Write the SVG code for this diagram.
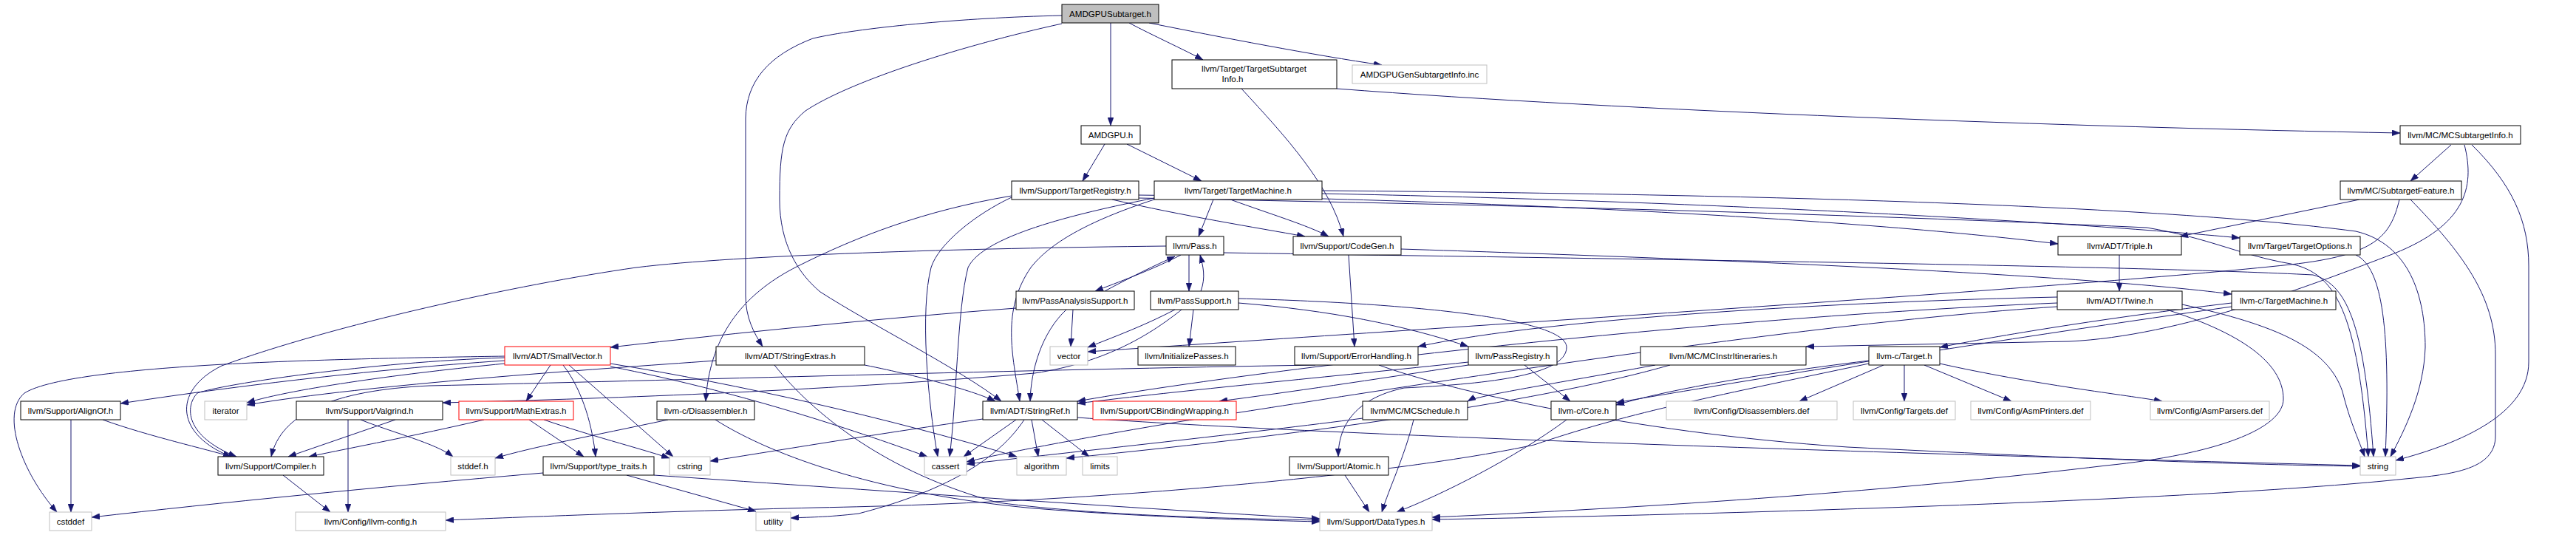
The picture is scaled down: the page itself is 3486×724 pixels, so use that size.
<svg xmlns="http://www.w3.org/2000/svg" width="3486" height="724" viewBox="0 0 3486 724">
<style>
rect{fill:#fff;stroke:#000;stroke-width:1}
.g rect{stroke:#bfbfbf}
.r rect{stroke:#ff0000}
.root rect{fill:#bfbfbf}
text{font-family:"Liberation Sans",Arial,sans-serif;font-size:11.6px;text-anchor:middle;fill:#000}
#edges path{fill:none;stroke:#191970;stroke-width:1;marker-end:url(#a)}
</style>
<defs>
<marker id="a" viewBox="0 0 11 8" refX="11" refY="4" markerWidth="11" markerHeight="8" markerUnits="userSpaceOnUse" orient="auto"><path d="M0,0L11,4L0,8z" fill="#191970" stroke="#191970" stroke-width="0.5"/></marker>
</defs>
<rect x="0" y="0" width="3486" height="724" style="fill:#fff;stroke:none"/>
<g id="edges">
<path d="M1503,31 L1503,170"/>
<path d="M1528,31 C1560,48 1600,66 1628,81"/>
<path d="M1555,31 C1650,50 1780,75 1870,88"/>
<path d="M1437,21 C1300,24 1160,38 1100,52 C1040,75 1010,110 1009,160 L1009,400 C1009,430 1020,450 1032,469"/>
<path d="M1437,32 C1300,62 1150,110 1090,150 C1060,175 1055,200 1055,270 C1055,330 1080,370 1110,395 C1180,440 1300,500 1355,543"/>
<path d="M1495,195 L1465,245"/>
<path d="M1525,195 L1626,245"/>
<path d="M1809,120 C2200,150 2800,172 3248,180"/>
<path d="M1680,120 C1740,185 1800,250 1818,320"/>
<path d="M3317,196 L3262,245"/>
<path d="M3335,196 C3350,255 3335,305 3240,343 C3130,385 2950,455 2800,462 L2444,469"/>
<path d="M3345,196 C3400,250 3422,300 3422,360 L3422,490 C3422,560 3330,600 3242,623"/>
<path d="M3193,270 L2950,320"/>
<path d="M3247,270 C3235,320 3215,345 3100,358 C2800,390 2000,440 1472,476"/>
<path d="M3262,270 C3330,340 3377,400 3377,480 L3377,590 C3377,635 3320,642 3255,648 C3000,675 2400,695 1938,703"/>
<path d="M1369,265 C1250,285 1160,320 1080,360 C1000,400 960,460 955,543"/>
<path d="M1541,264 C2000,270 2500,295 2785,330"/>
<path d="M1505,270 C1600,292 1700,308 1766,320"/>
<path d="M1369,267 C1320,290 1270,330 1260,362 C1245,420 1255,540 1269,618"/>
<path d="M1541,268 C1900,275 2400,285 2905,308 C2990,322 3030,345 3100,357 C3160,370 3190,420 3205,618"/>
<path d="M1642,270 L1622,320"/>
<path d="M1665,270 C1720,290 1770,305 1798,320"/>
<path d="M1789,262 C2300,272 2800,300 3031,322"/>
<path d="M1562,270 C1470,300 1420,330 1395,362 C1355,420 1370,480 1380,543"/>
<path d="M1562,268 C1450,290 1330,320 1310,362 C1295,420 1295,540 1285,618"/>
<path d="M1789,258 C2300,262 2900,275 3188,313 C3260,330 3282,400 3282,470 C3280,530 3255,580 3235,618"/>
<path d="M1578,333 C1300,336 1000,345 861,362 C700,385 450,440 300,495 C230,530 240,590 313,618"/>
<path d="M1656,342 C2300,352 2900,360 3130,372 C3180,385 3200,450 3212,618"/>
<path d="M1598,345 C1560,365 1510,383 1482,394"/>
<path d="M1495,394 C1530,375 1565,358 1590,347"/>
<path d="M1609,345 L1609,394"/>
<path d="M1625,394 C1632,375 1628,360 1624,345"/>
<path d="M1452,419 L1449,469"/>
<path d="M1443,419 C1410,450 1395,500 1394,543"/>
<path d="M1375,417 C1200,430 1000,450 826,470"/>
<path d="M1590,419 C1550,440 1510,455 1472,470"/>
<path d="M1615,419 L1609,469"/>
<path d="M1599,419 C1560,450 1500,490 1400,505 C1100,530 800,540 599,545"/>
<path d="M1676,410 C1800,420 1900,440 1987,469"/>
<path d="M1676,404 C1900,410 2120,430 2120,470 C2120,510 2000,520 1900,525 C1830,540 1811,580 1811,618"/>
<path d="M745,494 L712,543"/>
<path d="M762,494 C790,530 802,580 806,618"/>
<path d="M770,494 L911,618"/>
<path d="M683,488 C500,500 300,525 163,546"/>
<path d="M683,484 C500,490 300,520 267,532 C250,550 250,590 320,618"/>
<path d="M683,492 C550,505 400,525 334,545"/>
<path d="M683,482 C500,485 100,490 33,532 C0,560 30,640 77,693"/>
<path d="M826,492 C1000,520 1200,565 1376,618"/>
<path d="M826,496 C1000,530 1150,580 1255,618"/>
<path d="M969,488 C800,500 500,520 334,548"/>
<path d="M1170,494 C1250,510 1320,530 1347,543"/>
<path d="M1048,494 C1100,560 1200,640 1350,680 C1500,700 1700,702 1786,704"/>
<path d="M655,568 C560,590 480,605 418,618"/>
<path d="M716,568 L790,618"/>
<path d="M736,568 C800,590 860,605 906,620"/>
<path d="M535,568 L390,618"/>
<path d="M471,568 L471,693"/>
<path d="M488,568 C530,585 590,600 613,618"/>
<path d="M139,568 C200,590 280,608 313,618"/>
<path d="M96,568 L96,693"/>
<path d="M383,643 L447,693"/>
<path d="M904,568 C800,590 720,605 670,620"/>
<path d="M968,568 C1050,620 1200,670 1400,688 C1550,700 1700,704 1786,706"/>
<path d="M735,640 C500,660 300,680 124,700"/>
<path d="M848,643 L1023,692"/>
<path d="M885,643 C1200,665 1600,692 1786,702"/>
<path d="M1330,567 C1200,585 1050,610 961,624"/>
<path d="M1375,568 L1304,618"/>
<path d="M1396,568 L1405,618"/>
<path d="M1410,568 L1474,618"/>
<path d="M1386,568 C1345,630 1262,669 1162,695 C1120,700 1090,700 1070,701"/>
<path d="M1458,565 C1800,590 2600,615 3194,630"/>
<path d="M1780,494 C1400,500 900,515 581,522 C450,528 380,560 367,618"/>
<path d="M1866,494 C1950,525 2200,585 2500,605 C2800,620 3000,628 3194,631"/>
<path d="M2240,494 C2100,520 2000,535 1986,543"/>
<path d="M2260,494 C2100,540 1800,585 1443,620"/>
<path d="M1913,568 C1900,620 1880,660 1870,693"/>
<path d="M1844,566 C1700,585 1450,612 1308,628"/>
<path d="M1820,643 L1853,693"/>
<path d="M2120,568 C2050,620 1950,670 1890,693"/>
<path d="M2549,494 L2435,543"/>
<path d="M2577,494 L2577,543"/>
<path d="M2604,494 L2722,543"/>
<path d="M2625,492 C2750,520 2880,535 2926,543"/>
<path d="M2529,488 C2350,510 2250,530 2187,548"/>
<path d="M2529,492 C2300,540 2200,560 2076,602 C1900,640 1500,680 1104,687 C900,692 700,700 603,704"/>
<path d="M3020,415 C2700,460 2300,525 2187,545"/>
<path d="M3020,410 C2850,430 2700,455 2625,470"/>
<path d="M1896,337 C2300,350 2800,370 3020,398"/>
<path d="M1825,345 L1833,469"/>
<path d="M2868,345 L2868,394"/>
<path d="M2784,410 C2300,430 1700,500 1458,543"/>
<path d="M2784,402 C2500,408 2100,430 1919,469"/>
<path d="M2784,415 C2400,440 1800,540 1600,570 C1450,595 1350,615 1308,625"/>
<path d="M2932,419 C3030,450 3090,490 3090,540 C3090,580 3000,615 2850,630 C2600,660 2300,684 1938,700"/>
<path d="M2953,412 C3080,440 3150,470 3170,530 C3180,570 3190,590 3200,618"/>
<path d="M3188,345 C3225,362 3235,450 3228,618"/>
<path d="M1987,490 C1800,510 1600,528 1458,546"/>
<path d="M1987,494 C1850,515 1750,530 1650,543"/>
<path d="M2063,494 L2125,543"/>
</g>
<g id="n_root" class="root"><rect x="1437" y="6" width="131" height="25"/><text x="1502.5" y="22.5">AMDGPUSubtarget.h</text></g>
<g id="n_tsi"><rect x="1586" y="81" width="223" height="39"/><text x="1697" y="96.5">llvm/Target/TargetSubtarget</text><text x="1668" y="110.5">Info.h</text></g>
<g id="n_geninc" class="g"><rect x="1830" y="88" width="182" height="25"/><text x="1921" y="104.5">AMDGPUGenSubtargetInfo.inc</text></g>
<g id="n_amdgpu"><rect x="1463" y="170" width="80" height="25"/><text x="1503" y="186.5">AMDGPU.h</text></g>
<g id="n_mcsi"><rect x="3248" y="170" width="163" height="25"/><text x="3329.5" y="186.5">llvm/MC/MCSubtargetInfo.h</text></g>
<g id="n_treg"><rect x="1369" y="245" width="172" height="25"/><text x="1455" y="261.5">llvm/Support/TargetRegistry.h</text></g>
<g id="n_tmach"><rect x="1562" y="245" width="227" height="25"/><text x="1675.5" y="261.5">llvm/Target/TargetMachine.h</text></g>
<g id="n_subfeat"><rect x="3167" y="245" width="164" height="25"/><text x="3249" y="261.5">llvm/MC/SubtargetFeature.h</text></g>
<g id="n_pass"><rect x="1578" y="320" width="78" height="25"/><text x="1617" y="336.5">llvm/Pass.h</text></g>
<g id="n_codegen"><rect x="1750" y="320" width="146" height="25"/><text x="1823" y="336.5">llvm/Support/CodeGen.h</text></g>
<g id="n_triple"><rect x="2785" y="320" width="167" height="25"/><text x="2868.5" y="336.5">llvm/ADT/Triple.h</text></g>
<g id="n_topts"><rect x="3031" y="320" width="163" height="25"/><text x="3112.5" y="336.5">llvm/Target/TargetOptions.h</text></g>
<g id="n_pas"><rect x="1375" y="394" width="160" height="25"/><text x="1455" y="410.5">llvm/PassAnalysisSupport.h</text></g>
<g id="n_ps"><rect x="1557" y="394" width="119" height="25"/><text x="1616.5" y="410.5">llvm/PassSupport.h</text></g>
<g id="n_twine"><rect x="2784" y="394" width="169" height="25"/><text x="2868.5" y="410.5">llvm/ADT/Twine.h</text></g>
<g id="n_ctm"><rect x="3020" y="394" width="141" height="25"/><text x="3090.5" y="410.5">llvm-c/TargetMachine.h</text></g>
<g id="n_smallvec" class="r"><rect x="683" y="469" width="143" height="25"/><text x="754.5" y="485.5">llvm/ADT/SmallVector.h</text></g>
<g id="n_strext"><rect x="969" y="469" width="201" height="25"/><text x="1069.5" y="485.5">llvm/ADT/StringExtras.h</text></g>
<g id="n_vector" class="g"><rect x="1421" y="469" width="51" height="25"/><text x="1446.5" y="485.5">vector</text></g>
<g id="n_initp"><rect x="1540" y="469" width="132" height="25"/><text x="1606" y="485.5">llvm/InitializePasses.h</text></g>
<g id="n_errh"><rect x="1752" y="469" width="167" height="25"/><text x="1835.5" y="485.5">llvm/Support/ErrorHandling.h</text></g>
<g id="n_preg"><rect x="1987" y="469" width="120" height="25"/><text x="2047" y="485.5">llvm/PassRegistry.h</text></g>
<g id="n_mcii"><rect x="2220" y="469" width="224" height="25"/><text x="2332" y="485.5">llvm/MC/MCInstrItineraries.h</text></g>
<g id="n_ctarget"><rect x="2529" y="469" width="96" height="25"/><text x="2577" y="485.5">llvm-c/Target.h</text></g>
<g id="n_alignof"><rect x="28" y="543" width="135" height="25"/><text x="95.5" y="559.5">llvm/Support/AlignOf.h</text></g>
<g id="n_iterator" class="g"><rect x="277" y="543" width="57" height="25"/><text x="305.5" y="559.5">iterator</text></g>
<g id="n_valgrind"><rect x="401" y="543" width="198" height="25"/><text x="500" y="559.5">llvm/Support/Valgrind.h</text></g>
<g id="n_mathext" class="r"><rect x="621" y="543" width="155" height="25"/><text x="698.5" y="559.5">llvm/Support/MathExtras.h</text></g>
<g id="n_cdis"><rect x="889" y="543" width="132" height="25"/><text x="955" y="559.5">llvm-c/Disassembler.h</text></g>
<g id="n_strref"><rect x="1330" y="543" width="128" height="25"/><text x="1394" y="559.5">llvm/ADT/StringRef.h</text></g>
<g id="n_cbw" class="r"><rect x="1479" y="543" width="194" height="25"/><text x="1576" y="559.5">llvm/Support/CBindingWrapping.h</text></g>
<g id="n_mcsched"><rect x="1844" y="543" width="142" height="25"/><text x="1915" y="559.5">llvm/MC/MCSchedule.h</text></g>
<g id="n_core"><rect x="2099" y="543" width="88" height="25"/><text x="2143" y="559.5">llvm-c/Core.h</text></g>
<g id="n_disdef" class="g"><rect x="2255" y="543" width="231" height="25"/><text x="2370.5" y="559.5">llvm/Config/Disassemblers.def</text></g>
<g id="n_tgtdef" class="g"><rect x="2508" y="543" width="138" height="25"/><text x="2577" y="559.5">llvm/Config/Targets.def</text></g>
<g id="n_asmprdef" class="g"><rect x="2667" y="543" width="162" height="25"/><text x="2748" y="559.5">llvm/Config/AsmPrinters.def</text></g>
<g id="n_asmpadef" class="g"><rect x="2910" y="543" width="161" height="25"/><text x="2990.5" y="559.5">llvm/Config/AsmParsers.def</text></g>
<g id="n_compiler"><rect x="295" y="618" width="143" height="25"/><text x="366.5" y="634.5">llvm/Support/Compiler.h</text></g>
<g id="n_stddef" class="g"><rect x="610" y="618" width="60" height="25"/><text x="640" y="634.5">stddef.h</text></g>
<g id="n_typetraits"><rect x="735" y="618" width="150" height="25"/><text x="810" y="634.5">llvm/Support/type_traits.h</text></g>
<g id="n_cstring" class="g"><rect x="906" y="618" width="55" height="25"/><text x="933.5" y="634.5">cstring</text></g>
<g id="n_cassert" class="g"><rect x="1251" y="618" width="57" height="25"/><text x="1279.5" y="634.5">cassert</text></g>
<g id="n_algorithm" class="g"><rect x="1376" y="618" width="67" height="25"/><text x="1409.5" y="634.5">algorithm</text></g>
<g id="n_limits" class="g"><rect x="1465" y="618" width="47" height="25"/><text x="1488.5" y="634.5">limits</text></g>
<g id="n_atomic"><rect x="1745" y="618" width="134" height="25"/><text x="1812" y="634.5">llvm/Support/Atomic.h</text></g>
<g id="n_string" class="g"><rect x="3194" y="618" width="48" height="25"/><text x="3218" y="634.5">string</text></g>
<g id="n_cstddef" class="g"><rect x="67" y="693" width="57" height="25"/><text x="95.5" y="709.5">cstddef</text></g>
<g id="n_llvmconfig" class="g"><rect x="400" y="693" width="203" height="25"/><text x="501.5" y="709.5">llvm/Config/llvm-config.h</text></g>
<g id="n_utility" class="g"><rect x="1023" y="693" width="47" height="25"/><text x="1046.5" y="709.5">utility</text></g>
<g id="n_datatypes" class="g"><rect x="1786" y="693" width="152" height="25"/><text x="1862" y="709.5">llvm/Support/DataTypes.h</text></g>
</svg>
